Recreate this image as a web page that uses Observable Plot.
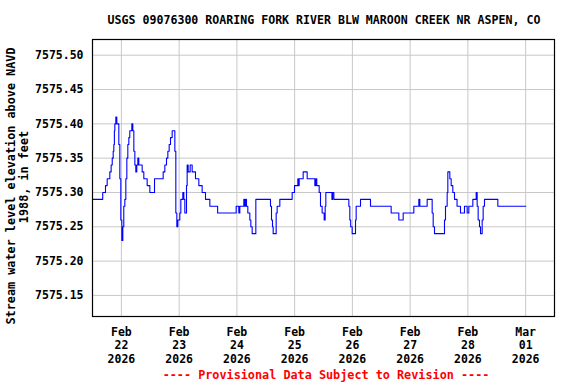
<!DOCTYPE html>
<html>
<head>
<meta charset="utf-8">
<script src="https://cdn.jsdelivr.net/npm/d3@7"></script>
<script src="https://cdn.jsdelivr.net/npm/@observablehq/plot@0.6"></script>
<style>
  html, body { margin: 0; padding: 0; background: white; }
</style>
</head>
<body>
<div id="chart"></div>
<script>
// ---- Data ----
const title = "USGS 09076300 ROARING FORK RIVER BLW MAROON CREEK NR ASPEN, CO";
const yLabelLine1 = "Stream water level elevation above NAVD";
const yLabelLine2 = "1988, in feet";
const footer = "---- Provisional Data Subject to Revision ----";

const seriesStart = "2026-02-21T12:00:00Z";
// hours since seriesStart
const hoursSinceStart = [
  0, 4.25, 5.4, 6.1, 7.2, 7.75, 8.2, 8.6, 8.87, 9.1, 9.28, 9.7, 10.1, 10.94, 11.36, 11.77, 12.19, 12.6, 13.0, 13.44,
  13.85, 14.27, 14.68, 15.1, 15.5, 16.35, 16.76, 17.18, 17.6, 18.0, 18.4, 18.84, 19.25, 20.64, 21.33, 22.72, 23.83, 25.77,
  29.37, 30.06, 30.75, 31.31, 31.86, 32.42, 33.11, 34.22, 34.63, 35.05, 35.46, 36.29, 36.71, 37.54, 37.96, 38.37, 39.07,
  39.34, 39.76, 40.59, 41.42, 42.8, 44.19, 45.57, 46.96, 48.76, 52.0,
  59.71, 60.81, 61.23, 62.89, 63.3, 63.72, 64.0, 64.55, 65.38, 65.8, 66.35, 67.88, 73.97, 74.39, 74.8, 75.08, 76.33,
  76.74, 77.85, 82.98, 83.95, 85.33, 85.6, 85.9, 87.55, 89.21, 92.4, 92.8, 93.2, 94.2, 94.75, 95.44, 96.28, 96.69, 96.97,
  99.5, 99.8, 100.3, 106.53, 106.94, 107.3, 107.91, 109.3, 109.57, 111.38, 115.53, 124.12, 127.31, 129.11, 133.54,
  135.62, 136.03, 139.08, 141.16, 141.58, 142.13, 146.28, 146.7, 147.39, 147.67, 148.5, 149.05, 149.74, 150.44, 151.5,
  152.93, 154.59, 155.7, 156.4, 158.06, 159.45, 159.86, 160.27, 160.83, 161.25, 161.94, 162.35, 162.91, 168.45, 180.0
];
const levels = [
  7575.29, 7575.30, 7575.31, 7575.32, 7575.33, 7575.34, 7575.35, 7575.36, 7575.37, 7575.39, 7575.40, 7575.41, 7575.40, 7575.37, 7575.32, 7575.26, 7575.23, 7575.25, 7575.28, 7575.29,
  7575.32, 7575.35, 7575.37, 7575.38, 7575.39, 7575.40, 7575.39, 7575.36, 7575.34, 7575.33, 7575.34, 7575.35, 7575.34, 7575.33, 7575.32, 7575.31, 7575.30, 7575.32,
  7575.33, 7575.34, 7575.35, 7575.36, 7575.37, 7575.38, 7575.39, 7575.36, 7575.27, 7575.25, 7575.26, 7575.27, 7575.29, 7575.30, 7575.29, 7575.27, 7575.31,
  7575.34, 7575.33, 7575.34, 7575.33, 7575.32, 7575.31, 7575.30, 7575.29, 7575.28, 7575.27,
  7575.28, 7575.27, 7575.28, 7575.29, 7575.28, 7575.29, 7575.28, 7575.27, 7575.26, 7575.25, 7575.24, 7575.29, 7575.28, 7575.26, 7575.25, 7575.24, 7575.27,
  7575.28, 7575.29, 7575.30, 7575.31, 7575.32, 7575.31, 7575.32, 7575.33, 7575.32, 7575.31, 7575.32, 7575.31, 7575.30, 7575.28, 7575.27, 7575.26, 7575.28, 7575.30,
  7575.29, 7575.30, 7575.29, 7575.28, 7575.26, 7575.25, 7575.24, 7575.26, 7575.28, 7575.29, 7575.28, 7575.27, 7575.26, 7575.27, 7575.28,
  7575.29, 7575.28, 7575.29, 7575.27, 7575.25, 7575.24, 7575.26, 7575.28, 7575.30, 7575.33, 7575.32, 7575.31, 7575.30, 7575.29, 7575.28,
  7575.27, 7575.28, 7575.27, 7575.28, 7575.29, 7575.30, 7575.28, 7575.26, 7575.25, 7575.24, 7575.26, 7575.28, 7575.29, 7575.28, 7575.28
];

const yTicks = [7575.15, 7575.20, 7575.25, 7575.30, 7575.35, 7575.40, 7575.45, 7575.50];
const xTickDates = ["2026-02-22", "2026-02-23", "2026-02-24", "2026-02-25", "2026-02-26", "2026-02-27", "2026-02-28", "2026-03-01"];
const xDomain = ["2026-02-21T12:00:00Z", "2026-03-01T12:00:00Z"];
const yDomain = [7575.1193, 7575.5229];

// ---- Build ----
const t0 = new Date(seriesStart).getTime();
const data = hoursSinceStart.map((h, i) => ({ date: new Date(t0 + h * 3600e3), value: levels[i] }));
const xTicks = xTickDates.map(s => new Date(s + "T00:00:00Z"));

const FONT = "'DejaVu Sans Mono', monospace";

const chart = Plot.plot({
  width: 576,
  height: 384,
  marginLeft: 92,
  marginRight: 22,
  marginTop: 39,
  marginBottom: 68,
  style: { fontFamily: FONT, fontWeight: "bold", fontSize: "11.5px", background: "white", color: "black", overflow: "visible" },
  x: { type: "utc", domain: xDomain.map(s => new Date(s)) },
  y: { domain: yDomain },
  marks: [
    Plot.gridY(yTicks, { stroke: "#c8c8c8", strokeOpacity: 1, strokeWidth: 1 }),
    Plot.gridX(xTicks, { stroke: "#c8c8c8", strokeOpacity: 1, strokeWidth: 1 }),
    Plot.line(data, { x: "date", y: "value", stroke: "#0000ff", strokeWidth: 1.1, curve: "step-after" }),
    Plot.frame({ stroke: "black", strokeWidth: 1.2 }),
    Plot.axisY(yTicks, { tickSize: 0, tickPadding: 9, tickFormat: d => d.toFixed(2), label: null }),
    Plot.axisX(xTicks, { tickSize: 0, tickPadding: 10, tickFormat: d3.utcFormat("%b\n%d\n%Y"), lineHeight: 1.16, label: null })
  ]
});

const svg = d3.select(chart);
svg.append("text")
  .attr("x", 324).attr("y", 20)
  .attr("text-anchor", "middle").attr("dominant-baseline", "central")
  .style("font-family", FONT).style("font-weight", "bold").style("font-size", "11.6px")
  .text(title);
svg.append("text")
  .attr("transform", "translate(11,186) rotate(-90)")
  .attr("text-anchor", "middle").attr("dominant-baseline", "central")
  .style("font-family", FONT).style("font-weight", "bold").style("font-size", "11.8px")
  .text(yLabelLine1);
svg.append("text")
  .attr("transform", "translate(24,177) rotate(-90)")
  .attr("text-anchor", "middle").attr("dominant-baseline", "central")
  .style("font-family", FONT).style("font-weight", "bold").style("font-size", "11.8px")
  .text(yLabelLine2);
svg.append("text")
  .attr("x", 326).attr("y", 375)
  .attr("text-anchor", "middle").attr("dominant-baseline", "central")
  .style("font-family", FONT).style("font-weight", "bold").style("font-size", "11.8px")
  .attr("fill", "red")
  .text(footer);

document.getElementById("chart").appendChild(chart);
</script>
</body>
</html>
